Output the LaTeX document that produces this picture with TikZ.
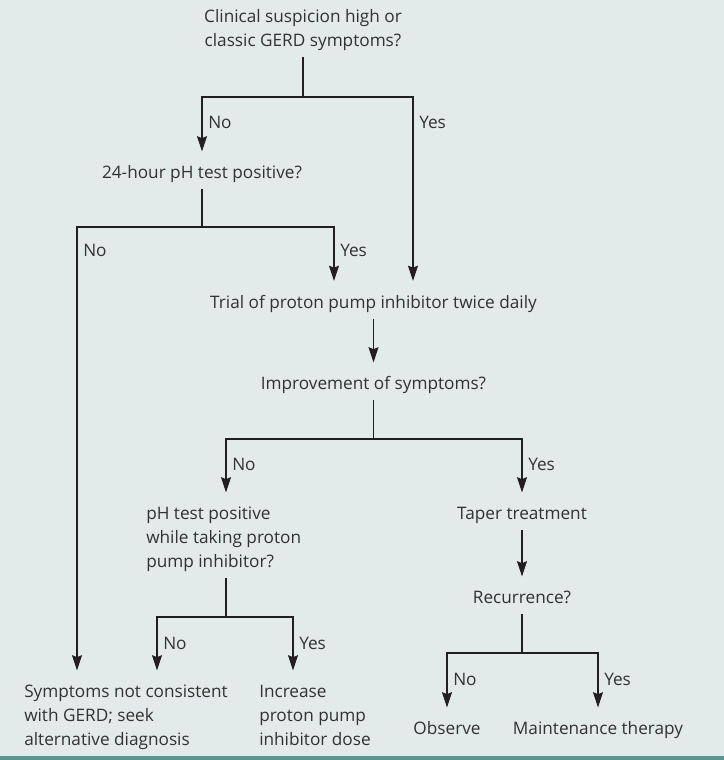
\documentclass[tikz,border=0pt]{standalone}
\usepackage{fontspec}
\setmainfont{Open Sans}
\usetikzlibrary{arrows.meta}
\definecolor{Panel}{RGB}{226,235,233}
\definecolor{Band}{RGB}{94,150,145}
\definecolor{Ink}{RGB}{35,31,32}
\definecolor{Print}{RGB}{50,50,50}
\newcommand{\Body}{\fontsize{12.9pt}{18pt}\selectfont}
\newcommand{\StepTop}{\rule{0pt}{20.25pt}}
\newcommand{\StepBot}{\rule[-7.5pt]{0pt}{7.5pt}}
\tikzset{Step/.style={
    inner sep=0pt,
    font=\Body,
    text=Print,
    align=center,
    execute at begin node=\StepTop,
    execute at end node=\StepBot,
    }
}
\tikzset{Answer/.style={
    inner sep=0pt,
    font=\Body,
    text=Print,
    anchor=base west,
    }
}
\tikzset{Link/.style={draw=Ink, line width=0.8pt}}
\tikzset{Arrow/.style={Link, -{Stealth[length=11.5pt,width=7.5pt,inset=1.5pt]}}}

\begin{document}
\begin{tikzpicture}[x=0.75pt,y=-0.75pt]
    \fill [Panel] (0,0) rectangle (724,760);
    \fill [Band] (0,756) rectangle (724,760);
    \useasboundingbox (0,0) rectangle (724,760);

    \node [Step,anchor=south] (suspicion) at (303,56.5) {Clinical suspicion high or\\classic GERD symptoms?};
    \node [Step,anchor=north] (phtest) at (202,151.5) {24-hour pH test positive?};
    \node [Step,anchor=north] (trial) at (373.5,281) {Trial of proton pump inhibitor twice daily};
    \node [Step,anchor=north] (improve) at (373.5,362.5) {Improvement of symptoms?};
    \node [Step,anchor=north west,align=left] (phppi) at (146,492.5) {\StepTop pH test positive\\while taking proton\\pump inhibitor?};
    \node [Step,anchor=north] (taper) at (522,492.5) {Taper treatment};
    \node [Step,anchor=north] (recur) at (522,576.5) {Recurrence?};
    \node [Step,anchor=north west,align=left] (notgerd) at (24,670.5) {\StepTop Symptoms not consistent\\with GERD; seek\\alternative diagnosis};
    \node [Step,anchor=north west,align=left] (increase) at (259,670.5) {\StepTop Increase\\proton pump\\inhibitor dose};
    \node [Step,anchor=north] (observe) at (447,707.5) {Observe};
    \node [Step,anchor=north] (maint) at (598,707.5) {Maintenance therapy};

    \coordinate (splitA) at (303,97);   \coordinate (splitA-r) at (413,97);
    \coordinate (splitB) at (202,227);  \coordinate (splitB-l) at (77,227);  \coordinate (splitB-r) at (334,227);
    \coordinate (splitC) at (373.5,439); \coordinate (splitC-l) at (226,439);
    \coordinate (splitD) at (226,617);  \coordinate (splitD-l) at (157,617); \coordinate (splitD-r) at (293,617);
    \coordinate (splitE) at (522,653);

    \draw [Link] (suspicion.south) -- (splitA);
    \draw [Arrow] (splitA) -| (phtest.north);
    \draw [Arrow] (splitA) -- (splitA-r) -- (splitA-r |- trial.north);
    \draw [Link] (phtest.south) -- (splitB);
    \draw [Arrow] (splitB) -- (splitB-l) -- (splitB-l |- notgerd.north);
    \draw [Arrow] (splitB) -- (splitB-r) -- (splitB-r |- trial.north);
    \draw [Arrow] (trial) -- (improve);
    \draw [Link] (improve.south) -- (splitC);
    \draw [Arrow] (splitC) -- (splitC-l) -- (splitC-l |- phppi.north);
    \draw [Arrow] (splitC) -| (taper.north);
    \draw [Link] (splitD |- phppi.south) -- (splitD);
    \draw [Arrow] (splitD) -- (splitD-l) -- (splitD-l |- notgerd.north);
    \draw [Arrow] (splitD) -- (splitD-r) -- (splitD-r |- increase.north);
    \draw [Arrow] (taper) -- (recur);
    \draw [Link] (recur.south) -- (splitE);
    \draw [Arrow] (splitE) -| (observe.north);
    \draw [Arrow] (splitE) -| (maint.north);

    \node [Answer] (noA) at (208,128.5) {No};
    \node [Answer] (yesA) at (419,128.5) {Yes};
    \node [Answer] (noB) at (83,256.5) {No};
    \node [Answer] (yesB) at (340,256.5) {Yes};
    \node [Answer] (noC) at (232,470.5) {No};
    \node [Answer] (yesC) at (528,470.5) {Yes};
    \node [Answer] (noD) at (163,649.5) {No};
    \node [Answer] (yesD) at (299,649.5) {Yes};
    \node [Answer] (noE) at (453,685.5) {No};
    \node [Answer] (yesE) at (604,685.5) {Yes};
\end{tikzpicture}
\end{document}
